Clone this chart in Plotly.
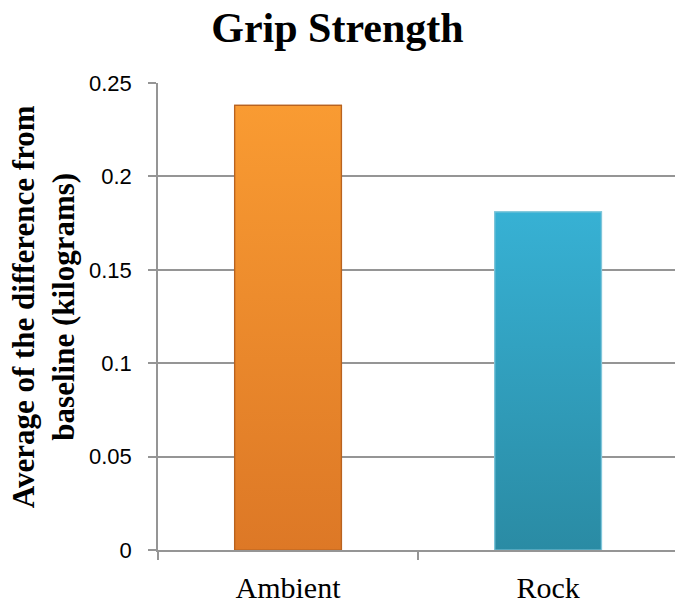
import plotly.graph_objects as go

# Grip strength: mean change from baseline (kg) per condition
categories = ["Ambient", "Rock"]
values = [0.238, 0.181]

# bar styling: top / bottom shades for a soft vertical gradient, plus edge colour
top_colors = ["#F99B32", "#37B1D4"]
bottom_colors = ["#DD7826", "#2A8BA4"]
edge_colors = ["#B8621F", "#7FC6DA"]
bar_width = 0.41

positions = list(range(len(categories)))
axis_grey = "#959595"

fig = go.Figure()

# base bars (solid colour)
fig.add_trace(go.Bar(
    x=positions, y=values, width=bar_width,
    marker=dict(color=["#F08E2E", "#30A0BE"],
                line=dict(color=edge_colors, width=1.5)),
    hoverinfo="skip", showlegend=False,
))

# gradient fill laid over each bar, outlined by the bar's own extent
for i, (v, top, bot, edge) in enumerate(zip(values, top_colors, bottom_colors, edge_colors)):
    x0, x1 = i - bar_width / 2, i + bar_width / 2
    fig.add_trace(go.Scatter(
        x=[x0, x1, x1, x0, x0], y=[0, 0, v, v, 0],
        mode="lines", fill="toself",
        line=dict(color=edge, width=1.2),
        fillgradient=dict(type="vertical", start=0, stop=v,
                          colorscale=[[0, bot], [1, top]]),
        hoverinfo="skip", showlegend=False,
    ))

fig.update_layout(
    width=675, height=605,
    margin=dict(l=158, r=0, t=83, b=55),
    paper_bgcolor="white", plot_bgcolor="white",
    title=dict(text="<b>Grip Strength</b>", x=0.5, xanchor="center",
               y=0.955, yanchor="middle",
               font=dict(family="Liberation Serif", size=42, color="black")),
    xaxis=dict(
        range=[-0.5, 1.488], automargin=False,
        tickmode="array", tickvals=positions, ticktext=categories,
        ticks="", showgrid=False, zeroline=False,
        showline=True, linecolor=axis_grey, linewidth=1.5,
        ticklabelstandoff=10,
        tickfont=dict(family="Liberation Serif", size=30, color="black"),
        minor=dict(ticks="outside", tick0=-0.5, dtick=1, ticklen=8,
                   tickcolor=axis_grey, tickwidth=1.5, showgrid=False),
    ),
    yaxis=dict(
        range=[0, 0.25], automargin=False,
        tickvals=[0, 0.05, 0.1, 0.15, 0.2, 0.25],
        ticktext=["0", "0.05", "0.1", "0.15", "0.2", "0.25"],
        ticks="outside", ticklen=8, tickcolor=axis_grey, tickwidth=1.5,
        ticklabelstandoff=12,
        showgrid=True, gridcolor=axis_grey, gridwidth=1.5,
        zeroline=False, showline=True, linecolor=axis_grey, linewidth=1.5,
        tickfont=dict(family="Liberation Sans", size=22, color="black"),
    ),
    annotations=[dict(
        text="<b>Average of the difference from<br>baseline (kilograms)</b>",
        xref="paper", yref="paper", x=(43 - 158) / 517, y=0.52,
        xanchor="center", yanchor="middle", textangle=-90, showarrow=False,
        font=dict(family="Liberation Serif", size=31, color="black"),
    )],
)

fig.write_html("out.html")
